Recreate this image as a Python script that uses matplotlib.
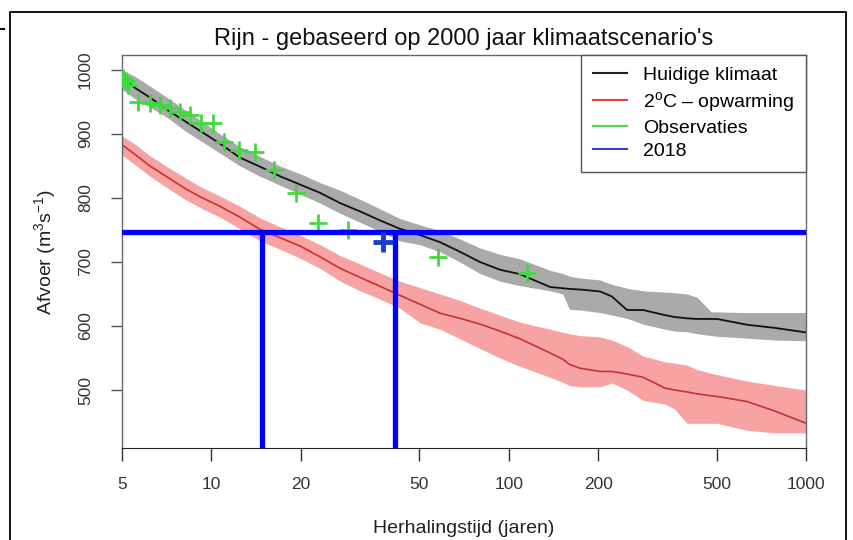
import matplotlib
matplotlib.use('Agg')
import matplotlib.pyplot as plt
from matplotlib.lines import Line2D
from matplotlib.patches import Rectangle

plt.rcParams['font.family'] = ['Liberation Sans', 'DejaVu Sans']
plt.rcParams['mathtext.fontset'] = 'custom'
plt.rcParams['mathtext.rm'] = 'Liberation Sans'
plt.rcParams['mathtext.default'] = 'regular'

# return period grid (jaren) for the simulated curves
T = [5.0, 5.53, 6.21, 7.14, 8.14, 9.15, 10.68, 12.47, 14.56, 17.0, 19.85, 23.2,
     27.1, 31.6, 36.9, 43.0, 50.3, 58.7, 68.5, 80.0, 93.4, 109, 137.7, 152, 160,
     173.7, 202.9, 222.5, 250, 283, 335.5, 362, 398, 430, 480, 502, 633, 787, 1000]

# huidige klimaat: median and band
cur = [988, 972, 957, 937, 920, 905, 885, 863, 849, 834, 821, 808,
       792, 779, 765, 752, 742, 731, 716, 700, 688, 681, 661, 659, 658,
       657, 654, 646, 625, 625, 617, 614, 612, 611, 611, 611, 602, 597, 590]
cur_hi = [1000, 990, 975, 956, 938, 922, 900, 880, 865, 850, 838, 824,
          812, 798, 783, 768, 758, 749, 736, 722, 712, 705, 687, 682, 678,
          675, 672, 665, 659, 655, 653, 652, 650, 645, 622, 622, 621, 621, 621]
cur_lo = [970, 955, 942, 925, 905, 890, 870, 850, 834, 820, 806, 792,
          776, 762, 748, 733, 727, 716, 700, 682, 670, 663, 655, 650, 626,
          625, 621, 617, 612, 603, 595, 592, 591, 588, 585, 584, 581, 578, 577]

# 2 graden opwarming: median and band
warm = [883, 868, 850, 832, 815, 802, 787, 770, 751, 738, 725, 708,
        690, 676, 662, 648, 634, 620, 612, 603, 592, 580, 558, 548, 540,
        534, 529, 529, 525, 520, 503, 500, 497, 494, 491, 490, 482, 467, 448]
warm_hi = [897, 884, 866, 848, 832, 818, 803, 787, 769, 755, 742, 727,
           710, 697, 683, 670, 660, 650, 640, 628, 617, 606, 595, 590, 588,
           585, 583, 578, 568, 553, 544, 542, 539, 532, 526, 524, 514, 507, 500]
warm_lo = [867, 852, 834, 815, 798, 785, 770, 752, 733, 720, 706, 690,
           670, 655, 642, 628, 605, 595, 580, 565, 550, 537, 520, 512, 507,
           505, 505, 511, 500, 484, 478, 470, 448, 448, 448, 448, 437, 433, 433]

# observaties
obs_T = [5.03, 5.15, 5.25, 5.66, 6.19, 6.70, 7.23, 7.82, 8.45, 9.24, 10.1,
         11.0, 12.4, 14.0, 16.2, 19.2, 22.8, 28.8, 57.8, 115.5]
obs_Q = [988, 982, 976, 950, 948, 945, 940, 935, 930, 917, 917,
         888, 875, 872, 844, 808, 761, 750, 708, 683]

# 2018
T2018 = 37.7
Q2018 = 731
Q_line = 747
T_cross = [14.8, 41.3]

xticks = [5, 10, 20, 50, 100, 200, 500, 1000]
yticks = [500, 600, 700, 800, 900, 1000]

fig = plt.figure(figsize=(8.54, 5.4), dpi=100)
ax = fig.add_axes([122 / 854, 1 - 448 / 540, 684 / 854, 393 / 540])

ax.fill_between(T, cur_lo, cur_hi, color='#aaaaaa', lw=0, zorder=1)
ax.fill_between(T, warm_lo, warm_hi, color='#f7a3a3', lw=0, zorder=1)
ax.plot(T, cur, color='#111111', lw=1.3, zorder=2)
ax.plot(T, warm, color='#cc3030', lw=1.2, zorder=2)
ax.plot(obs_T, obs_Q, '+', color='#3ddc3d', ms=13, mew=2, zorder=3)

ax.axhline(Q_line, color='#0000ff', lw=3.8, zorder=4)
for tc in T_cross:
    ax.plot([tc, tc], [400, Q_line], color='#0000ff', lw=3.8, zorder=4,
            solid_capstyle='butt')
ax.plot([T2018], [Q2018], '+', color='#1a3fd0', ms=15, mew=3.5, zorder=5)

ax.set_xscale('log')
ax.set_xlim(5, 1000)
ax.set_ylim(409.4, 1023.4)
ax.set_xticks(xticks)
ax.set_xticklabels([str(v) for v in xticks])
ax.minorticks_off()
ax.set_yticks(yticks)
ax.set_yticklabels([str(v) for v in yticks], rotation=90, va='center')
ax.tick_params(axis='x', length=9, width=1, color='#333333', pad=12,
               labelsize=12.5, labelcolor='#333333')
ax.tick_params(axis='y', length=8, width=1, color='#555555', pad=13,
               labelsize=12.5, labelcolor='#333333')
for s in ['top', 'right', 'left']:
    ax.spines[s].set_color('#666666')
    ax.spines[s].set_linewidth(1)
ax.spines['bottom'].set_color('#222222')

ax.set_title("Rijn - gebaseerd op 2000 jaar klimaatscenario's", fontsize=17,
             color='#111111', pad=7)
ax.set_xlabel('Herhalingstijd (jaren)', fontsize=14, color='#222222', labelpad=20)
ax.set_ylabel('Afvoer (m$^3$s$^{-1}$)', fontsize=14, color='#222222', labelpad=14)

handles = [Line2D([], [], color='#222222', lw=1.5),
           Line2D([], [], color='#e04040', lw=1.5),
           Line2D([], [], color='#44dd44', lw=1.5),
           Line2D([], [], color='#3344bb', lw=1.5)]
labels = ['Huidige klimaat', '2$^{o}$C – opwarming', 'Observaties', '2018']
leg = ax.legend(handles, labels, loc='upper right', borderaxespad=0,
                fontsize=14, fancybox=False, handlelength=1.75,
                handletextpad=0.85, labelspacing=0.28, borderpad=0.6,
                framealpha=1)
leg.get_frame().set_edgecolor('#555555')
leg.get_frame().set_linewidth(1)
leg.set_zorder(6)

# outer frame of the picture
fig.patches.append(Rectangle((10 / 854, -0.02), 836 / 854, 1 - 12 / 540 + 0.02,
                             transform=fig.transFigure, fill=False,
                             edgecolor='black', lw=1.3))
fig.lines.append(Line2D([0, 4 / 854], [1 - 29 / 540] * 2,
                        transform=fig.transFigure, color='black', lw=1.5))

fig.savefig('out.png', dpi=100)
